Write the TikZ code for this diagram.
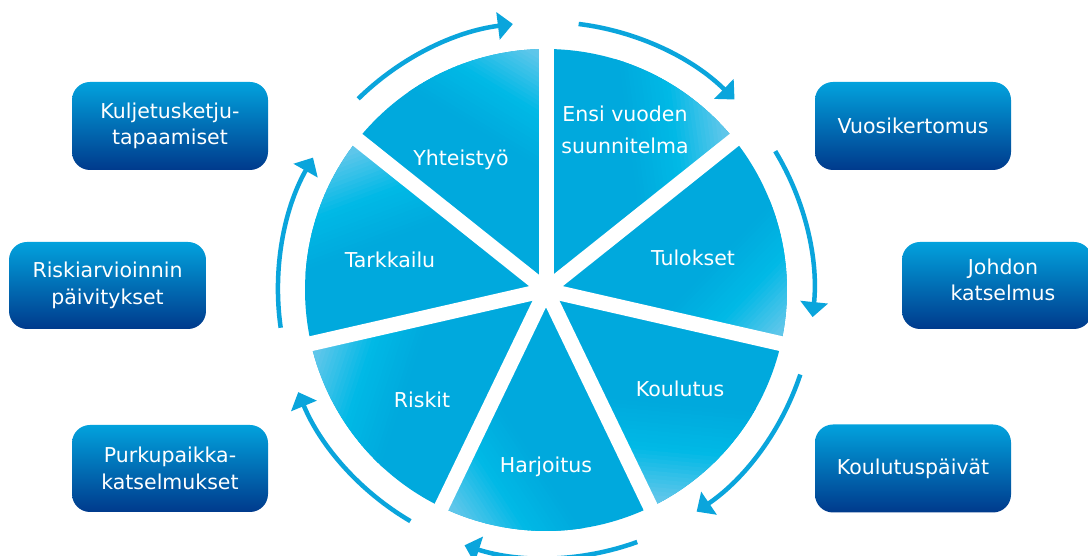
\documentclass[tikz,border=0pt]{standalone}
\usepackage{fontspec}
\setmainfont{DejaVu Sans}
\usetikzlibrary{arrows.meta}
\definecolor{sdark}{HTML}{00A9DD}
\definecolor{sbright}{HTML}{00B9E6}
\definecolor{slight}{HTML}{60C6EA}
\definecolor{arrowc}{HTML}{0AA5DC}
\definecolor{boxtop}{HTML}{02A2DD}
\definecolor{boxbot}{HTML}{003A8C}
\newcommand{\diagfont}{\fontsize{20.5}{26.5}\selectfont}
\newcommand{\slicepie}[1]{%
  \begin{scope}[shift={(546,266)}, rotate=#1]
    \clip (0,0) -- (0:241) arc[start angle=0, end angle=51.43, radius=241] -- cycle;
    \fill[sdark] (-30,-30) rectangle (270,270);
    \begin{scope}[shift={(135.1,65)}, rotate=-31]
      \foreach \k in {0,...,26}{
        \pgfmathsetmacro\xx{16+4*\k}
        \pgfmathtruncatemacro\pA{max(0,min(100,(\xx+2-20)/45*100))}
        \pgfmathtruncatemacro\pB{max(0,min(100,(\xx+2-65)/50*100))}
        \colorlet{tmpA}{sbright!\pA!sdark}
        \colorlet{tmpB}{slight!\pB!tmpA}
        \fill[tmpB] (\xx,-300) rectangle ({\xx+4.6},300);
      }
      \fill[slight] (124,-300) rectangle (400,300);
    \end{scope}
  \end{scope}}
\tikzset{
  gapline/.style={white, line width=15pt},
  cyclearrow/.style={arrowc, line width=4.5pt, -{Triangle[length=15pt,width=27pt]}},
  slicetext/.style={text=white, font=\diagfont, inner sep=0pt},
  infobox/.style={rounded corners=18pt, top color=boxtop, bottom color=boxbot,
    text=white, align=center, minimum width=196pt, minimum height=88pt,
    inner sep=0pt, font=\diagfont},
  boxtext/.style={text=white, align=center, font=\diagfont, inner sep=0pt}
}
\begin{document}
\begin{tikzpicture}[x=1pt,y=1pt]
\useasboundingbox (0,0) rectangle (1088,556);
\clip (0,0) rectangle (1088,556);
\fill[white] (0,0) rectangle (1088,556);
\coordinate (C) at (546,266);
% pie slices
\foreach \lo in {90,38.57,-12.86,-64.29,-115.71,-167.14,141.43} {\slicepie{\lo}}
% gaps
\foreach \a in {90,38.57,-12.86,-64.29,-115.71,-167.14,141.43}
  \draw[gapline] (C) -- ++(\a:262);
% cycle arrows
\begin{scope}[shift={(C)}]
\foreach \s/\e in {134.5/97.1, 83/45.3, 31.2/-5.8, -18.4/-55.8, -70.1/-107.7, -120.4/-157.6, -171.9/-209.6}
  \draw[cyclearrow] (\s:268) arc[start angle=\s, end angle=\e, radius=268];
\end{scope}
% slice labels
\node[slicetext, anchor=base] (tY) at (461,390) {Yhteistyö};
\node[slicetext, anchor=base] (tE1) at (625,434) {Ensi vuoden};
\node[slicetext, anchor=base] (tE2) at (625,402) {suunnitelma};
\node[slicetext, anchor=base] (tTa) at (390,288) {Tarkkailu};
\node[slicetext, anchor=base] (tTu) at (693,290) {Tulokset};
\node[slicetext, anchor=base] (tR) at (422,148) {Riskit};
\node[slicetext, anchor=base] (tK) at (680,159) {Koulutus};
\node[slicetext, anchor=base] (tH) at (546,83) {Harjoitus};
% side boxes
\node[infobox] (kt) at (170,430) {Kuljetusketju-\\tapaamiset};
\node[infobox, minimum width=197pt, minimum height=87pt] (ra) at (107.5,270.5) {Riskiarvioinnin\\päivitykset};
\node[infobox, minimum height=87pt] (pk) at (170,87.5) {Purkupaikka-\\katselmukset};
\node[infobox] (vk) at (913,430) {Vuosikertomus};
\node[infobox, minimum width=190pt, minimum height=87pt] (jk) at (997,270.5) {};
\node[boxtext] (jkt) at (1003,276.3) {Johdon\\katselmus};
\node[infobox] (kp) at (913,87.5) {Koulutuspäivät};
\end{tikzpicture}
\end{document}
